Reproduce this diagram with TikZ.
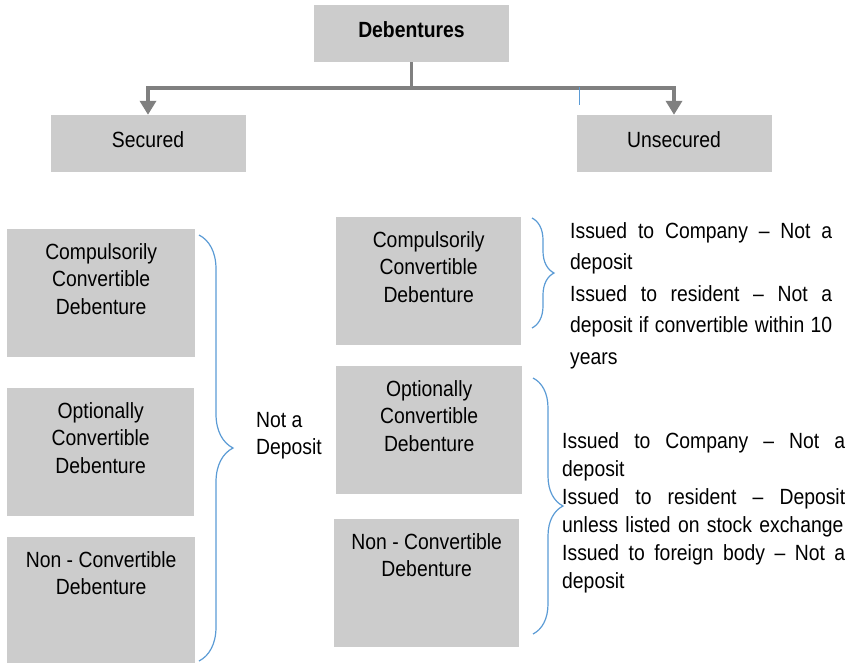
\documentclass[tikz,border=0pt]{standalone}
\usepackage{fontspec}
\setmainfont{Liberation Sans}[FakeStretch=0.88]
\usepackage{tikz}
\usetikzlibrary{arrows.meta,decorations.pathreplacing}

\definecolor{boxgray}{RGB}{204,204,204}
\definecolor{linegray}{RGB}{128,128,128}
\definecolor{braceblue}{RGB}{91,155,213}

\newcommand{\subtext}[2]{\parbox[t][128pt][t]{#1}{\centering\vspace*{14pt}#2}}

\begin{document}
\begin{tikzpicture}[x=1pt,y=-1pt,font=\fontsize{22}{27.5}\selectfont]
		\useasboundingbox (0,0) rectangle (859,663);
		\begin{scope}
            [
                topbox/.style={fill=boxgray, minimum width=195pt, minimum height=57pt, inner sep=0pt, text depth=8pt},
				subbox/.style={fill=boxgray, inner sep=0pt, anchor=north west},
				note/.style={inner sep=0pt, anchor=north west, align=left}
            ]
            
			\node(deb)[topbox] at (411.5,33.5) {\bfseries Debentures};
			\node(sec)[topbox] at (148,143.5) {Secured};
			\node(unsec)[topbox] at (674,143.5) {Unsecured};
			\coordinate (split) at (411.5,88);

			\node(lccd)[subbox] at (7,229) {\subtext{188pt}{Compulsorily\\Convertible\\Debenture}};
			\node(locd)[subbox] at (7,388) {\subtext{187pt}{Optionally\\Convertible\\Debenture}};
			\node(lncd)[subbox] at (7,537) {\parbox[t][126pt][t]{188pt}{\centering\vspace*{14pt}Non - Convertible\\Debenture}};
			\node(notdep)[note] at (256,412) {Not a\\Deposit};

			\node(rccd)[subbox] at (336,217) {\subtext{185pt}{Compulsorily\\Convertible\\Debenture}};
			\node(rocd)[subbox] at (336,366) {\subtext{186pt}{Optionally\\Convertible\\Debenture}};
			\node(rncd)[subbox] at (334,519) {\subtext{185pt}{Non - Convertible\\Debenture}};

			\node(ccdnote)[note, text width=262pt, font=\fontsize{22}{31.5}\selectfont] at (570,222)
				{Issued\hfill to\hfill Company\hfill –\hfill Not\hfill a\\deposit\\
				 Issued\hfill to\hfill resident\hfill –\hfill Not\hfill a\\
				 deposit\hfill if\hfill convertible\hfill within\hfill 10\\years};
			\node(othnote)[note, text width=283pt, font=\fontsize{22}{28}\selectfont] at (562,432)
				{Issued\hfill to\hfill Company\hfill –\hfill Not\hfill a\\deposit\\
				 Issued\hfill to\hfill resident\hfill –\hfill Deposit\\unless listed on stock exchange\\
				 Issued\hfill to\hfill foreign\hfill body\hfill –\hfill Not\hfill a\\deposit};

		\end{scope}
		\begin{scope}
            [
                trunk/.style={draw=linegray, line width=3.5pt},
                link/.style={trunk, -{Triangle[width=16pt,length=14pt]}},
                curly/.style={draw=braceblue, line width=1.2pt, decorate, decoration={brace, amplitude=#1}}
            ]
            \draw[trunk] (deb) -- (split);
            \draw[link] (split) -| (sec);
            \draw[link] (split) -| (unsec);
            \draw[braceblue, line width=0.8pt] (579,87) -- (579,105);

            \draw[curly=34] (199,235) -- (199,661);
            \draw[curly=22] (532,218) -- (532,328);
            \draw[curly=30] (533,378) -- (533,634);
		\end{scope}
    \end{tikzpicture}
\end{document}
